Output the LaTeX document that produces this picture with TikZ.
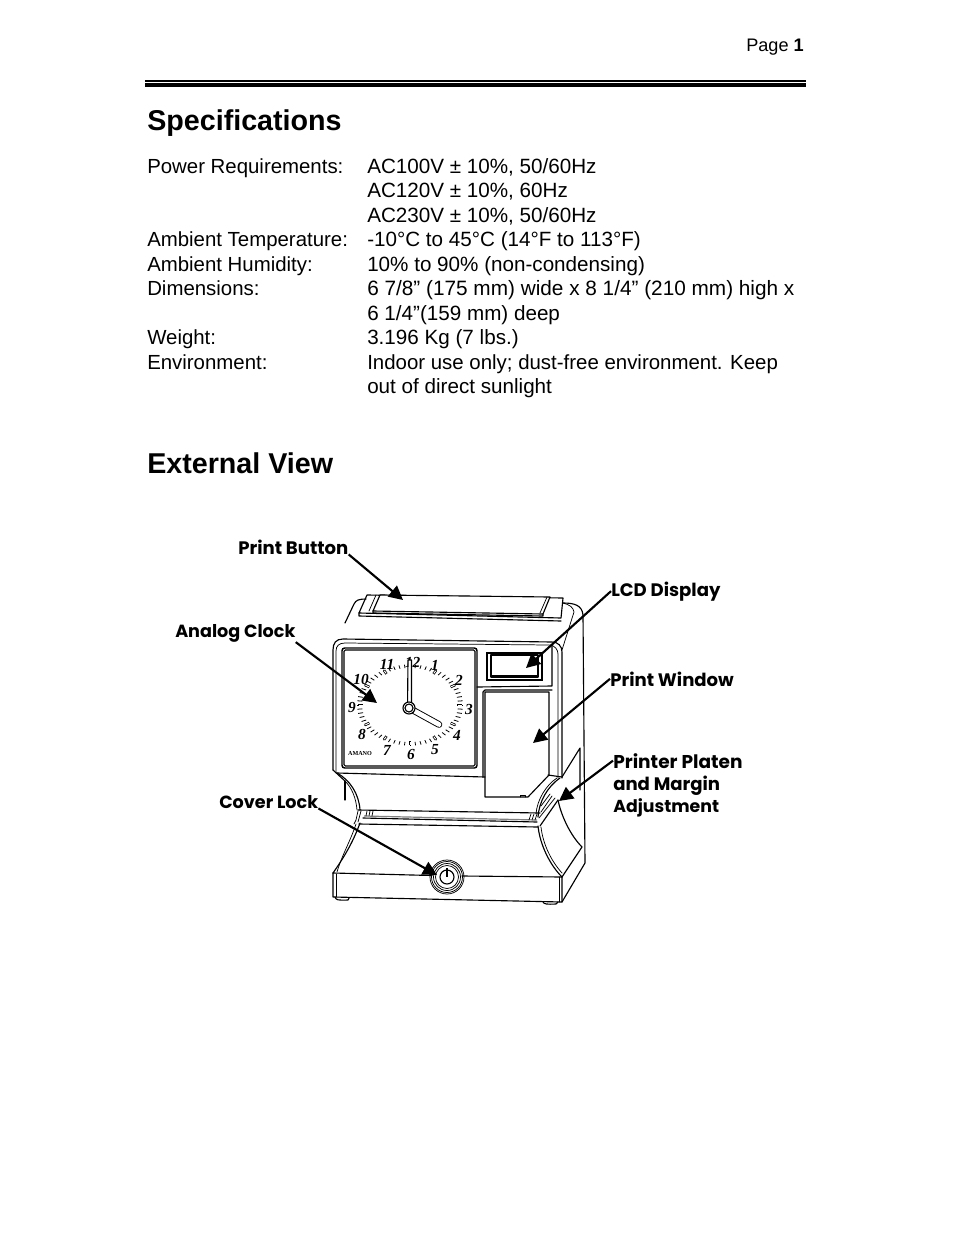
\documentclass[tikz,border=0pt]{standalone}
\usepackage{fontspec}
\setmainfont{Liberation Sans}
\newfontfamily\calloutfont{Poppins}[UprightFont=* Bold]
\newfontfamily\dialfont{Liberation Serif}
\usetikzlibrary{arrows.meta}
\tikzset{
  x=0.75pt,y=-0.75pt,
  txt/.style={anchor=base west,inner sep=0pt,font=\fontsize{15.3pt}{18pt}\selectfont},
  val/.style={anchor=base west,inner sep=0pt,font=\fontsize{15.48pt}{18pt}\selectfont},
  heading/.style={anchor=base west,inner sep=0pt,font=\fontsize{21.5pt}{26pt}\selectfont\bfseries},
  lbl/.style={anchor=base west,inner sep=0pt,font=\fontsize{13.2pt}{16pt}\calloutfont},
  lblw/.style={anchor=base west,inner sep=0pt,font=\fontsize{13.55pt}{16pt}\calloutfont},
  callout/.style={line width=1.6pt,-{Triangle[length=10.5pt,width=10.5pt]}},
  body/.style={line width=0.85pt,line join=round,line cap=round},
  fine/.style={line width=0.55pt,line join=round,line cap=round},
  num/.style={inner sep=0pt,font=\fontsize{11.5pt}{12pt}\dialfont\bfseries\itshape},
}
\begin{document}
\begin{tikzpicture}
\useasboundingbox (0,0) rectangle (954,1235);
\fill[white] (0,0) rectangle (954,1235);
% header
\node[anchor=base east,inner sep=0pt,font=\fontsize{13.6pt}{15pt}\selectfont] (pg) at (804,51) {Page \textbf{1}};
\fill (145,80) rectangle (806,81.5);
\fill (145,83) rectangle (806,87);
\node[heading] (h1) at (147,130) {Specifications};
\node[heading] (h2) at (147,473) {External View};
% specification text
\node[txt] (a1) at (147,173) {Power Requirements:};
\node[val] (b1) at (367,173) {AC100V ± 10\%, 50/60Hz};
\node[val] (b2) at (367,197.5) {AC120V ± 10\%, 60Hz};
\node[val] (b3) at (367,222) {AC230V ± 10\%, 50/60Hz};
\node[txt] (a4) at (147,246) {Ambient Temperature:};
\node[val] (b4) at (367,246) {-10°C to 45°C (14°F to 113°F)};
\node[txt] (a5) at (147,271) {Ambient Humidity:};
\node[val] (b5) at (367,271) {10\% to 90\% (non-condensing)};
\node[txt] (a6) at (147,295) {Dimensions:};
\node[val,font=\fontsize{15.58pt}{18pt}\selectfont] (b6) at (367,295) {6 7/8” (175 mm) wide x 8 1/4” (210 mm) high x};
\node[val] (b7) at (367,320) {6 1/4”(159 mm) deep};
\node[txt] (a8) at (147,344) {Weight:};
\node[val] (b8) at (367,344) {3.196 Kg (7 lbs.)};
\node[txt] (a9) at (147,369) {Environment:};
\node[val,font=\fontsize{15.32pt}{18pt}\selectfont] (b9) at (367,369) {Indoor use only; dust-free environment. Keep};
\node[val] (b10) at (367,393) {out of direct sunlight};

% ---- clock housing
% button housing
\draw[body] (359,613) -- (367,595) -- (563,598) -- (561,618) -- cycle;
\draw[body] (359,613) -- (359,616) -- (561,621);
\draw[body,fill=white] (373,611) -- (380,595) -- (550,597) -- (543,614) -- cycle;
\draw[body] (373,611) -- (373,613) -- (543,616) -- (543,614);
\draw[fine] (376,595) -- (369,611);
\draw[fine] (547,597) -- (540,613);
% top shell
\draw[body] (345,623) -- (354,604) .. controls (356,600) and (359,599) .. (366,599);
\draw[body] (563,603) .. controls (574,603) and (582,605) .. (583,615) -- (585,863) -- (562,902);
\draw[fine] (563,603) .. controls (570,605) and (573,607) .. (574,612) -- (562,650);
% front panel
\draw[body] (333,770) -- (333,650) .. controls (333,643) and (336,639) .. (343,639) -- (552,642) .. controls (558,642) and (562,646) .. (562,652) -- (562,778);
\draw[fine] (336,772) -- (336,651) .. controls (336,646) and (339,643) .. (345,643) -- (549,645) .. controls (555,645) and (558,650) .. (558,654) -- (558,778);
\draw[body] (333,770) -- (345,781);
% clock face
\draw[line width=1.1pt,rounded corners=2pt] (342,648) rectangle (477,768);
\draw[body,rounded corners=1pt] (344,650) rectangle (475,766);
% lcd
\draw[line width=1pt] (487,653) rectangle (542,680);
\draw[body] (491,655) rectangle (538,677);
\draw[fine] (491,675) -- (538,675);
% panel right of the clock
\draw[body] (477,687) -- (552,686) -- (552,645);
\draw[body] (483,777) -- (483,692) -- (485,690) -- (552,690);
\draw[body] (485,692) -- (549,692) -- (549,775) -- (528,797) -- (485,797) -- (485,692);
\draw[fine] (520,797) -- (520,795) -- (525,795) -- (525,797);
% lower front band
\draw[body] (337,773) -- (485,777);
\draw[body] (548,775) -- (562,777);
\draw[body] (562,777) -- (580,748) -- (580,790);
% waist, left
\draw[body] (337,773) .. controls (350,780) and (359,794) .. (360,810);
\draw[fine] (345,781) .. controls (352,788) and (356,798) .. (357,810);
\draw[body] (345,781) -- (345,800);
\draw[body] (360,823) .. controls (352,845) and (342,860) .. (333,873);
\draw[fine] (356,824) .. controls (350,842) and (342,855) .. (337,872);
\draw[fine] (358,811) -- (356,820) -- (354,824);
\draw[fine] (361,811) -- (358,822);
% slot
\draw[body] (358,810) -- (540,813);
\draw[line width=0.9pt,gray] (364,816) -- (537,820);
\draw[body] (363,818) -- (537,822);
\draw[body] (359,824) -- (538,827);
\draw[fine] (367,811) -- (366,816) (370,811) -- (369,816) (373,811) -- (372,816);
\draw[fine] (531,814) -- (529,820) (534,814) -- (532,820) (537,814) -- (535,820);
% waist, right
\draw[body] (560,778) .. controls (547,787) and (539,802) .. (538,817);
\draw[fine] (557,778) .. controls (546,785) and (537,800) .. (536,814);
\draw[body] (558,800) -- (540,826);
\draw[fine] (555,798) -- (539,818) (552,796) -- (541,812) (550,794) -- (541,806);
\draw[body] (558,800) .. controls (561,815) and (570,835) .. (582,847);
\draw[body] (582,847) -- (562,877);
\draw[body] (538,826) .. controls (540,845) and (550,865) .. (562,877);
\draw[fine] (541,827) .. controls (543,845) and (552,862) .. (562,873);
% base
\draw[body] (333,873) -- (432,875.5);
\draw[body] (462,876) -- (562,877);
\draw[body] (333,873) -- (333,897) -- (562,902) -- (562,877);
\draw[fine] (336,874) -- (336,897);
\draw[fine] (559,877) -- (559,902);
\draw[body] (335,897) .. controls (336,900) and (338,900.5) .. (348,900) -- (349,898);
\draw[body] (543,902) .. controls (544,904) and (546,904.5) .. (556,904) -- (558,902);
% lock
\draw[fine] (447,877) circle (17);
\draw[fine] (447,877) circle (15.5);
\draw[fine] (447,877) circle (13.5);
\draw[fine] (447,877) circle (11.5);
\draw[body] (447,877) circle (7);
\draw[line width=0.8pt] (447,868) -- (447,877);
% dial ticks
\foreach \a in {0,6,...,354}{
  \draw[line width=0.6pt] ({410+48*cos(\a)},{705+37*sin(\a)}) -- ({410+53*cos(\a)},{705+40.5*sin(\a)});
}
\foreach \a in {0,30,...,330}{
  \draw[line width=1.9pt] ({410+47*cos(\a)},{705+36*sin(\a)}) -- ({410+52*cos(\a)},{705+40*sin(\a)});
  \draw[line width=0.7pt,white] ({410+47.5*cos(\a)},{705+36.5*sin(\a)}) -- ({410+51.5*cos(\a)},{705+39.5*sin(\a)});
}
\node[num] (n12) at (412.7,662) {12};
\node[num] (n1) at (435,665) {1};
\node[num] (n2) at (459,680) {2};
\node[num] (n3) at (469,709) {3};
\node[num] (n4) at (457,735) {4};
\node[num] (n5) at (435,750) {5};
\node[num] (n6) at (411,754) {6};
\node[num] (n7) at (387,750) {7};
\node[num] (n8) at (362,734) {8};
\node[num] (n9) at (352,707) {9};
\node[num] (n10) at (361,679) {10};
\node[num] (n11) at (387,664) {11};
\node[inner sep=0pt,font=\fontsize{4.6pt}{5pt}\dialfont\bfseries] (amano) at (360,753.5) {AMANO};
% hands
\draw[body,fill=white] (407.5,708) -- (408,660) -- (411.5,660) -- (411.5,708);
\draw[line width=5pt,line cap=round] (409,708) -- (439,724.5);
\draw[line width=3.6pt,line cap=round,white] (409,708) -- (439,724.5);
\draw[body,fill=white] (409,708) circle (6);
\draw[body,fill=white] (409,708) circle (4);

% ---- callouts
\node[lblw] (lPB) at (238,554) {Print Button};
\node[lbl] (lAC) at (175,637) {Analog Clock};
\node[lbl] (lCL) at (219,808) {Cover Lock};
\node[lblw] (lLCD) at (611,596) {LCD Display};
\node[lblw] (lPW) at (610,686) {Print Window};
\node[lbl,font=\fontsize{13.9pt}{16pt}\calloutfont] (lPP) at (613,768) {Printer Platen};
\node[lblw] (lPP2) at (613,790) {and Margin};
\node[lbl,font=\fontsize{13pt}{16pt}\calloutfont] (lPP3) at (613,812) {Adjustment};
\coordinate (tPB) at (403,600);
\coordinate (tAC) at (377,703);
\coordinate (tCL) at (437,875);
\coordinate (tLCD) at (526,668);
\coordinate (tPW) at (533,743);
\coordinate (tPP) at (559,801);
\draw[callout] (lPB.south east) -- (tPB);
\draw[callout] (lAC.south east) -- (tAC);
\draw[callout] (lCL.south east) -- (tCL);
\draw[callout] (lLCD.west) -- (tLCD);
\draw[callout] (lPW.west) -- (tPW);
\draw[callout] (lPP.west) -- (tPP);
\end{tikzpicture}
\end{document}
